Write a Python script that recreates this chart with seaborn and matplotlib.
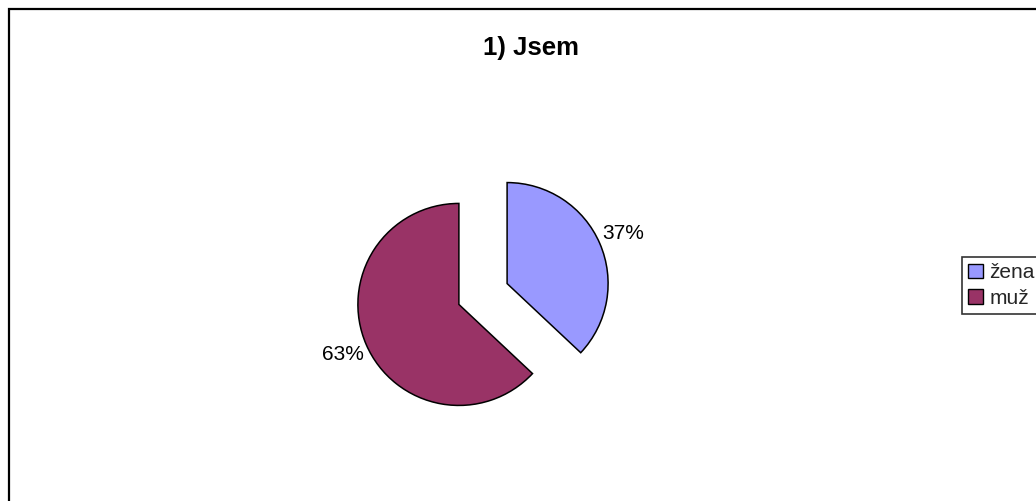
import matplotlib
matplotlib.use("Agg")
import matplotlib.pyplot as plt
import matplotlib.patches as mpatches
import seaborn as sns

categories = ["žena", "muž"]
values = [37, 63]
colors = ["#9999FF", "#993366"]
title = "1) Jsem"

sns.set_theme(style="white")
plt.rcParams['font.family'] = ['Liberation Sans', 'DejaVu Sans']

W, H = 1036, 501
fig = plt.figure(figsize=(W / 100, H / 100), dpi=100)
fig.patch.set_facecolor("white")

cx, cy, r = 483, 294, 101
half = 150
ax = fig.add_axes([(cx - half) / W, (H - cy - half) / H, 2 * half / W, 2 * half / H])
lim = half / r
wedges, texts, autotexts = ax.pie(
    values, colors=colors, startangle=90, counterclock=False,
    explode=[0.26, 0.26], autopct="%1.0f%%", pctdistance=1.25,
    wedgeprops=dict(edgecolor="black", linewidth=1.1),
    textprops=dict(fontsize=15, color="black"),
)
ax.set_xlim(-lim, lim)
ax.set_ylim(-lim, lim)
ax.set_aspect("equal")
ax.axis("off")

fig.text(531 / W, 1 - 48 / H, title, ha="center", va="center",
         fontsize=18.5, fontweight="bold", color="black")

handles = [mpatches.Patch(facecolor=c, edgecolor="black", linewidth=1.0, label=l)
           for c, l in zip(colors, categories)]
leg = fig.legend(handles=handles, loc="upper left",
                 bbox_to_anchor=(962 / W, 1 - 257 / H),
                 frameon=True, fancybox=False, shadow=False,
                 fontsize=15, handlelength=0.7, handleheight=0.7,
                 handletextpad=0.3, borderpad=0.3, labelspacing=0.3,
                 borderaxespad=0)
leg.get_frame().set_edgecolor("black")
leg.get_frame().set_linewidth(1.2)

border = mpatches.Rectangle((9 / W, -0.05), 1.1, 1 - 9 / H + 0.05,
                            transform=fig.transFigure, fill=False,
                            edgecolor="black", linewidth=1.6)
fig.patches.append(border)

fig.savefig("out.png", dpi=100)
